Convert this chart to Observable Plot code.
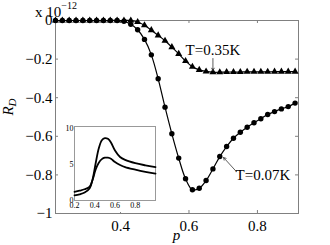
<!DOCTYPE html>
<html><head><meta charset="utf-8">
<script src="https://cdn.jsdelivr.net/npm/d3@7"></script>
<script src="https://cdn.jsdelivr.net/npm/@observablehq/plot@0.6"></script>
<style>
html,body{margin:0;padding:0;background:#fff;font-family:'Liberation Serif',serif;}
#wrap{position:relative;width:330px;height:245px;overflow:hidden;}
#inset{position:absolute;left:60px;top:121px;}
svg{display:block;}
</style></head><body>
<div id="wrap"><div id="main"></div><div id="inset"></div></div>
<script>
// ---- main chart data ----
const pValues = [0.21,0.23,0.25,0.27,0.29,0.31,0.33,0.35,0.37,0.39,0.41,0.43,0.45,0.47,0.49,0.51,0.53,0.55,0.57,0.59,0.61,0.63,0.65,0.67,0.69,0.71,0.73,0.75,0.77,0.79,0.81,0.83,0.85,0.87,0.89,0.91];
const rdT007 = [0,0,0,0,0,0,0,0,0,0,-0.004,-0.02,-0.048,-0.098,-0.178,-0.302,-0.449,-0.587,-0.713,-0.82,-0.877,-0.869,-0.829,-0.769,-0.705,-0.653,-0.61,-0.579,-0.553,-0.53,-0.509,-0.487,-0.472,-0.458,-0.446,-0.428];
const rdT035 = [0,0,0,0,0,0,0,0,0,0,0,0,-0.008,-0.025,-0.05,-0.077,-0.105,-0.138,-0.173,-0.21,-0.24,-0.256,-0.264,-0.268,-0.268,-0.267,-0.267,-0.267,-0.266,-0.266,-0.266,-0.266,-0.265,-0.265,-0.265,-0.265];
const xTicks = [0.4, 0.6, 0.8];
const yTicks = [0, -0.2, -0.4, -0.6, -0.8, -1];
const seriesLabels = ["T=0.35K", "T=0.07K"];
const labelX = [0.59, 0.736];
const labelY = [-0.181, -0.829];
const arrowX1 = [0.670, 0.738], arrowY1 = [-0.197, -0.782];
const arrowX2 = [0.670, 0.701], arrowY2 = [-0.259, -0.71];

// ---- inset data ----
const insetX = [0.2,0.25,0.3,0.35,0.38,0.41,0.44,0.47,0.5,0.53,0.56,0.6,0.65,0.7,0.8,0.9,1.0];
const insetUpper = [0.7,0.85,1.1,1.7,3.0,5.2,7.2,8.3,8.6,8.5,8.0,6.9,6.0,5.6,5.15,4.85,4.6];
const insetLower = [1.2,1.35,1.55,1.9,2.9,4.3,5.2,5.7,5.9,5.9,5.75,5.3,4.9,4.6,4.25,3.95,3.7];
const insetXTicks = [0.2, 0.4, 0.6, 0.8];
const insetYTicks = [0, 5, 10];

const low = pValues.map((p, i) => ({p, rd: rdT007[i]}));
const high = pValues.map((p, i) => ({p, rd: rdT035[i]}));
const labels = seriesLabels.map((t, i) => ({t, x: labelX[i], y: labelY[i]}));
const arrows = arrowX1.map((x1, i) => ({x1, y1: arrowY1[i], x2: arrowX2[i], y2: arrowY2[i]}));
const fmt = d3.format("");
const gray = "#808080";
const SERIF = "Liberation Serif";

const W = 330, H = 245, ML = 55, MR = 32, MT = 20, MB = 32;
const PW = W - ML - MR, PH = H - MT - MB;

function serifize(svg) {
  d3.select(svg).attr("font-family", SERIF).style("font-family", SERIF);
  d3.select(svg).selectAll("g").attr("font-family", null);
  d3.select(svg).selectAll("text").attr("font-family", SERIF).style("font-family", SERIF);
}

const main = Plot.plot({
  width: W, height: H, marginLeft: ML, marginRight: MR, marginTop: MT, marginBottom: MB,
  style: {fontSize: "15px", background: "white", color: "black"},
  x: {domain: [0.21, 0.92]},
  y: {domain: [-1, 0]},
  marks: [
    Plot.frame({stroke: gray}),
    Plot.tickY(yTicks, {stroke: gray, insetRight: PW - 3}),
    Plot.tickY(yTicks, {stroke: gray, insetLeft: PW - 3}),
    Plot.tickX(xTicks, {stroke: gray, insetTop: PH - 3}),
    Plot.tickX(xTicks, {stroke: gray, insetBottom: PH - 3}),
    Plot.axisX(xTicks, {tickSize: 0, tickPadding: 7, tickFormat: fmt, label: null}),
    Plot.axisY(yTicks, {tickSize: 0, tickPadding: 3, tickFormat: fmt, label: null}),
    Plot.line(high, {x: "p", y: "rd", curve: "catmull-rom", stroke: "black", strokeWidth: 1.2}),
    Plot.dot(high, {x: "p", y: "rd", symbol: "triangle", r: 2.6, fill: "black", stroke: "none"}),
    Plot.line(low, {x: "p", y: "rd", curve: "catmull-rom", stroke: "black", strokeWidth: 1.2}),
    Plot.dot(low, {x: "p", y: "rd", r: 2.7, fill: "black", stroke: "none"}),
    Plot.arrow(arrows, {x1: "x1", y1: "y1", x2: "x2", y2: "y2", stroke: "#333", strokeWidth: 0.8, headLength: 5}),
    Plot.text(labels, {x: "x", y: "y", text: "t", textAnchor: "start", lineAnchor: "bottom", fill: "black"})
  ]
});
const s = d3.select(main);
const t1 = s.append("text").attr("x", 56).attr("y", 17)
  .attr("font-size", 15).attr("fill", "black");
t1.append("tspan").text("x 10");
t1.append("tspan").attr("dy", -8).attr("font-size", 10).text("\u221212");
const yl = s.append("text").attr("transform", "translate(13,107) rotate(-90)")
  .attr("text-anchor", "middle").attr("font-size", 15)
  .attr("font-style", "italic").attr("fill", "black");
yl.append("tspan").text("R");
yl.append("tspan").attr("dy", 3).attr("font-size", 11).text("D");
s.append("text").attr("x", ML + PW / 2).attr("y", 240).attr("text-anchor", "middle")
  .attr("font-size", 15).attr("font-style", "italic").attr("fill", "black").text("p");
serifize(main);
document.getElementById("main").appendChild(main);

const inset = Plot.plot({
  width: 100, height: 91, marginLeft: 14, marginRight: 5, marginTop: 5, marginBottom: 12,
  style: {fontSize: "8px", background: "white", color: "black"},
  x: {domain: [0.2, 1.0]},
  y: {domain: [0, 10.2]},
  marks: [
    Plot.frame({stroke: "#999"}),
    Plot.axisX(insetXTicks, {tickSize: 0, tickPadding: 2, tickFormat: fmt, label: null}),
    Plot.axisY(insetYTicks, {tickSize: 0, tickPadding: 1, tickFormat: fmt, label: null}),
    Plot.line(insetX.map((x, i) => ({x, y: insetUpper[i]})), {x: "x", y: "y", curve: "catmull-rom", stroke: "black", strokeWidth: 1.8}),
    Plot.line(insetX.map((x, i) => ({x, y: insetLower[i]})), {x: "x", y: "y", curve: "catmull-rom", stroke: "black", strokeWidth: 1.8})
  ]
});
serifize(inset);
document.getElementById("inset").appendChild(inset);
</script>
</body></html>
